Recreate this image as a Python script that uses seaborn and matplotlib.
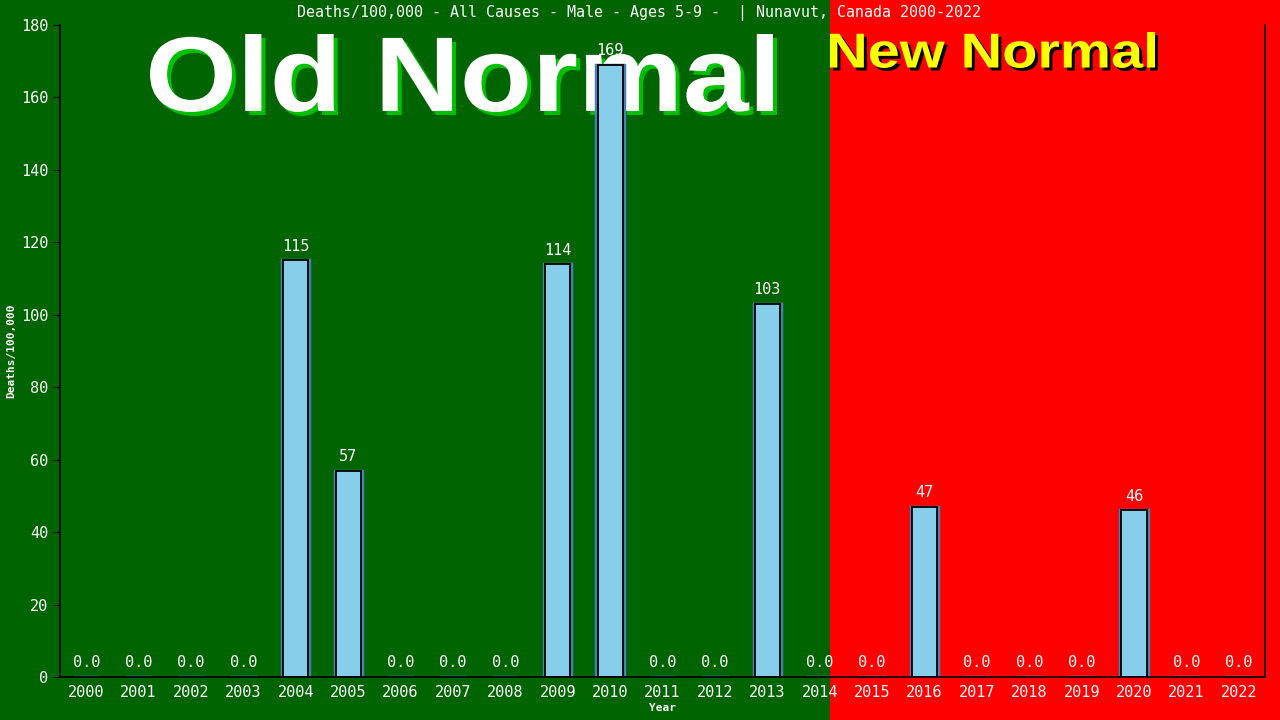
import matplotlib
matplotlib.use('Agg')
import matplotlib.pyplot as plt
import matplotlib.patches as mpatches
from matplotlib.textpath import TextPath
from matplotlib.font_manager import FontProperties
from matplotlib.transforms import Affine2D, IdentityTransform
import seaborn as sns
import numpy as np

# Daten
years = [str(y) for y in range(2000, 2023)]
deaths = [0, 0, 0, 0, 115, 57, 0, 0, 0, 114, 169, 0, 0, 103, 0, 0, 47, 0, 0, 0, 46, 0, 0]
title = 'Deaths/100,000 - All Causes - Male - Ages 5-9 -  | Nunavut, Canada 2000-2022'

sns.set_style('white')
plt.rcParams['font.family'] = ['DejaVu Sans Mono']

W, H = 1280, 720
fig = plt.figure(figsize=(12.8, 7.2), dpi=100)
fig.patch.set_facecolor('#006400')
# rote Fläche rechts
fig.add_artist(mpatches.Rectangle((830 / W, 0), 1 - 830 / W, 1, transform=fig.transFigure,
                                  facecolor='#ff0000', edgecolor='none', zorder=-3))

fp = FontProperties(family='Liberation Sans', weight='bold')


def big_text(s, x0, x1, y_top, y_bot, color, z):
    # Text in eine Box (Pixel, von oben gemessen) einpassen
    tp = TextPath((0, 0), s, size=100, prop=fp)
    bb = tp.get_extents()
    tr = (Affine2D().translate(-bb.x0, -bb.y0)
          .scale((x1 - x0) / bb.width, (y_bot - y_top) / bb.height)
          .translate(x0, H - y_bot))
    patch = mpatches.PathPatch(tr.transform_path(tp), facecolor=color, edgecolor='none',
                               transform=IdentityTransform(), zorder=z)
    fig.add_artist(patch)


# Old Normal / New Normal (hinter den Balken)
big_text('Old Normal', 154, 777, 38, 116, '#00c000', -2)
big_text('Old Normal', 150, 773, 34, 112, 'white', -1)
big_text('New Normal', 833, 1158, 35, 71, 'black', -2)
big_text('New Normal', 830, 1155, 32, 68, 'yellow', -1)

ax = fig.add_axes([60 / W, 43 / H, 1205 / W, 652 / H])
ax.set_facecolor('none')

# Schatten-Balken
sns.barplot(x=years, y=deaths, color='steelblue', edgecolor='steelblue', linewidth=2.5,
            width=0.52, saturation=1, ax=ax)
nonzero = [v if v > 0 else np.nan for v in deaths]
sns.barplot(x=years, y=nonzero, color='skyblue', edgecolor='black', linewidth=1.3,
            width=0.48, saturation=1, ax=ax)

for i, v in enumerate(deaths):
    label = '0.0' if v == 0 else str(v)
    ax.text(i, v + 1.8, label, ha='center', va='bottom', color='white', fontsize=11)

ax.set_ylim(0, 180)
ax.set_xlim(-0.5, len(years) - 0.5)
ax.set_yticks(range(0, 181, 20))
ax.tick_params(axis='y', colors='black', labelcolor='white', labelsize=11, length=5, direction='out', left=True)
ax.tick_params(axis='x', labelcolor='white', labelsize=11, length=0, pad=6)

for s in ['left', 'bottom', 'right']:
    ax.spines[s].set_color('black')
    ax.spines[s].set_linewidth(1.2)
ax.spines['top'].set_visible(False)

ax.set_xlabel('Year', color='white', fontsize=8, fontweight='bold', labelpad=2)
ax.set_ylabel('Deaths/100,000', color='white', fontsize=8, fontweight='bold', labelpad=3)

fig.text(639 / W, 1 - 13 / H, title, ha='center', va='center', color='white', fontsize=10.8)

fig.savefig('out.png', dpi=100, facecolor=fig.get_facecolor())
